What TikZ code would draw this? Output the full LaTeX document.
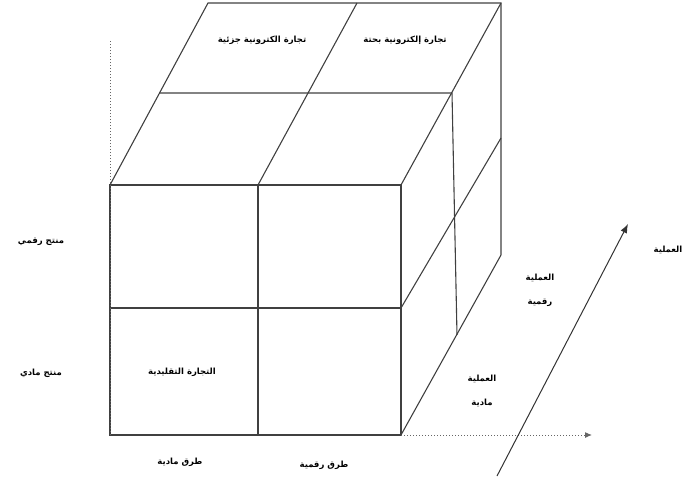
\documentclass[tikz,border=0pt]{standalone}
\usepackage{fontspec}
\newfontfamily\arabicfont[Script=Arabic,BoldFont={DejaVu Sans Bold}]{DejaVu Sans}
\TeXXeTstate=1
\usetikzlibrary{arrows.meta,calc}
\newcommand{\artext}[1]{\beginR#1\endR}

\begin{document}
\begin{tikzpicture}[x=1pt,y=-1pt,
    cubeline/.style={draw=black!75,line width=1.1pt},
    axisline/.style={draw=black!60,line width=1pt,dotted},
    lbl/.style={font=\arabicfont\bfseries\fontsize{8.5}{24}\selectfont,inner sep=1pt,align=center}]
  \useasboundingbox (0,0) rectangle (686,477);
  % front face
  \coordinate (flb) at (110,435);
  \coordinate (frb) at (401,435);
  \coordinate (frt) at (401,185);
  \coordinate (flt) at (110,185);
  \coordinate (fmb) at (258,435);
  \coordinate (fmt) at (258,185);
  \coordinate (fml) at (110,308);
  \coordinate (fmr) at (401,308);
  % top and right faces
  \coordinate (blt) at (208,3);
  \coordinate (bmt) at (357,3);
  \coordinate (brt) at (501,3);
  \coordinate (brb) at (501,255);
  \coordinate (brm) at (501,138);
  \coordinate (tml) at (159,93);
  \coordinate (tmr) at (452,93);
  \coordinate (rmb) at (457,335);
  \draw[cubeline] (flt) rectangle (frb);
  \draw[cubeline] (fmt) -- (fmb);
  \draw[cubeline] (fml) -- (fmr);
  \draw[cubeline] (flt) -- (blt) -- (brt) -- (brb) -- (frb);
  \draw[cubeline] (frt) -- (brt);
  \draw[cubeline] (fmt) -- (bmt);
  \draw[cubeline] (tml) -- (tmr) -- (rmb);
  \draw[cubeline] (fmr) -- (brm);
  % axes
  \coordinate (vtop) at (110,40);
  \coordinate (hend) at (592,435);
  \coordinate (pstart) at (497,476);
  \coordinate (pend) at (628,224);
  \draw[axisline] (flb) -- (vtop);
  \draw[axisline,-{Latex[length=7pt,width=6pt]}] (frb) -- (hend);
  \draw[black!80,line width=1pt,-{Latex[length=9pt,width=7pt]}] (pstart) -- (pend);
  % labels
  \node[lbl] (partial) at (262,40) {\artext{تجارة الكترونية جزئية}};
  \node[lbl] (pure) at (405,40) {\artext{تجارة إلكترونية بحتة}};
  \node[lbl] (trad) at (182,372) {\artext{التجارة التقليدية}};
  \node[lbl] (digprod) at (41,242) {\artext{منتج رقمي}};
  \node[lbl] (physprod) at (41,373) {\artext{منتج مادي}};
  \node[lbl] (physway) at (180,462) {\artext{طرق مادية}};
  \node[lbl] (digway) at (324,465) {\artext{طرق رقمية}};
  \node[lbl] (digproc) at (540,290) {\artext{العملية}\\\artext{رقمية}};
  \node[lbl] (physproc) at (482,391) {\artext{العملية}\\\artext{مادية}};
  \node[lbl] (proc) at (668,250) {\artext{العملية}};
\end{tikzpicture}
\end{document}
